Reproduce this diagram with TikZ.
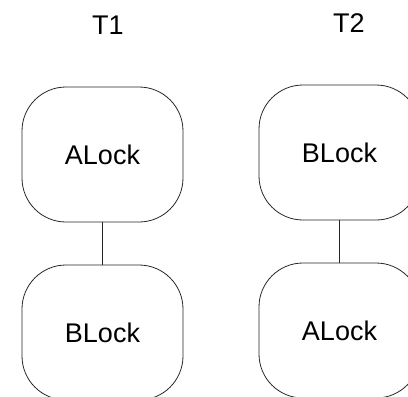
\documentclass[tikz,border=0pt]{standalone}
\usepackage{fontspec}
\setmainfont{Liberation Sans}
\begin{document}
\begin{tikzpicture}[x=1bp,y=-1bp,
  lockbox/.style={draw=black!85, line width=0.8bp, rounded corners=44bp, rectangle,
    minimum width=161bp, minimum height=135bp, inner sep=0pt,
    font=\fontsize{27bp}{32bp}\selectfont},
  title/.style={font=\fontsize{27bp}{32bp}\selectfont, inner sep=0pt},
  link/.style={draw=black!85, line width=0.8bp}]
\useasboundingbox (0,0) rectangle (408,397);
\node[title] (t1) at (108,25) {T1};
\node[title] (t2) at (349,23) {T2};
\node[lockbox] (a1) at (102.5,154.5) {ALock};
\node[lockbox] (b1) at (102.5,332.5) {BLock};
\node[lockbox] (b2) at (339.5,152.5) {BLock};
\node[lockbox] (a2) at (339.5,330.5) {ALock};
\draw[link] (a1) -- (b1);
\draw[link] (b2) -- (a2);
\end{tikzpicture}
\end{document}
